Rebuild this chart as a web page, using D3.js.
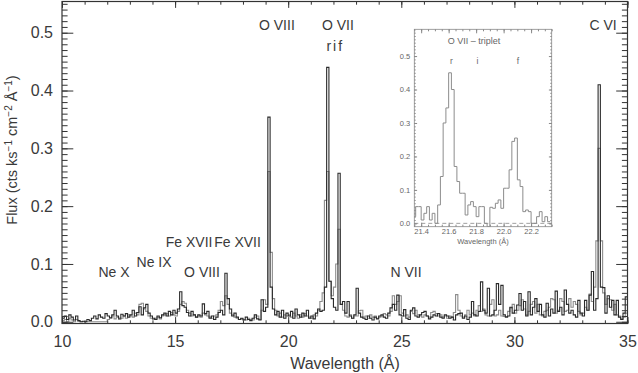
<!DOCTYPE html>
<html lang="en">
    <head>
        <meta charset="UTF-8">
        <script src="https://cdnjs.cloudflare.com/ajax/libs/d3/7.8.5/d3.min.js"></script>
        <title>RGS spectrum</title>
        <style>
            body { margin: 0; background: #fff; }
            svg text { font-family: "Liberation Sans", Arial, sans-serif; fill: #3a3a3a; }
            .axis path.domain { display: none; }
            .axis line { stroke: #333; }
            .inset .axis line { stroke: #888; }
            .inset text { fill: #666; }
        </style>
    </head>
    <body>
        <svg id="canvas" width="638" height="373"></svg>

        <script>
            // main spectrum: 0.1 A bins starting at 10.0 A
            var binStart = 10.0, binWidth = 0.1;
            var fluxDark = [
                .006,.010,.004,.012,.008,.003,.010,.002,.000,.001,
                .000,.004,.002,.006,.010,.005,.012,.008,.006,.014,
                .010,.007,.012,.020,.010,.006,.013,.010,.014,.008,
                .012,.020,.010,.016,.026,.012,.024,.030,.015,.010,
                .006,.004,.010,.007,.012,.015,.010,.018,.012,.020,
                .015,.022,.052,.028,.025,.016,.010,.018,.012,.008,
                .012,.010,.031,.014,.018,.006,.010,.004,.008,.016,
                .020,.012,.084,.040,.022,.010,.015,.008,.004,.006,
                .003,.008,.004,.002,.006,.012,.005,.003,.038,.018,
                .025,.354,.060,.022,.012,.018,.008,.020,.006,.015,
                .010,.018,.006,.022,.012,.008,.015,.010,.020,.006,
                .010,.005,.015,.022,.018,.020,.060,.440,.070,.040,
                .025,.020,.257,.030,.035,.015,.035,.010,.006,.012,
                .058,.015,.008,.006,.004,.010,.006,.003,.008,.005,
                .010,.012,.008,.006,.015,.024,.030,.020,.046,.012,
                .010,.021,.006,.004,.020,.024,.010,.008,.012,.016,
                .018,.010,.005,.008,.012,.010,.014,.008,.006,.012,
                .010,.006,.008,.003,.012,.014,.015,.006,.010,.004,
                .008,.035,.012,.010,.018,.069,.020,.015,.058,.010,
                .012,.020,.066,.030,.063,.012,.008,.010,.025,.015,
                .020,.029,.049,.020,.035,.010,.052,.012,.025,.040,
                .018,.030,.012,.008,.032,.010,.022,.015,.053,.018,
                .025,.012,.055,.030,.015,.020,.012,.008,.037,.015,
                .010,.037,.020,.046,.087,.020,.040,.410,.060,.059,
                .015,.045,.025,.037,.012,.037,.008,.004,.015,.043
            ];
            var fluxGrey = [
                .002,.004,.000,.006,.003,.000,.004,.001,.000,.000,
                .000,.000,.000,.000,.000,.000,.000,.000,.000,.000,
                .004,.006,.010,.005,.008,.004,.006,.010,.006,.012,
                .010,.008,.015,.012,.030,.032,.022,.018,.010,.006,
                .004,.006,.008,.005,.010,.012,.014,.010,.016,.012,
                .010,.018,.030,.035,.032,.020,.015,.010,.012,.008,
                .010,.008,.015,.012,.010,.008,.006,.010,.012,.020,
                .035,.028,.045,.030,.015,.012,.008,.006,.004,.005,
                .004,.003,.006,.004,.003,.008,.010,.004,.020,.038,
                .030,.260,.120,.040,.020,.010,.015,.008,.012,.010,
                .012,.008,.015,.010,.006,.012,.008,.014,.010,.008,
                .006,.012,.010,.020,.035,.050,.210,.260,.070,.045,
                .060,.100,.160,.030,.020,.010,.008,.012,.006,.010,
                .010,.019,.020,.008,.010,.006,.012,.008,.010,.006,
                .008,.010,.014,.012,.010,.018,.045,.030,.035,.045,
                .015,.010,.012,.008,.018,.014,.020,.012,.010,.008,
                .012,.010,.008,.016,.018,.014,.010,.012,.008,.010,
                .006,.010,.008,.016,.047,.020,.010,.008,.012,.020,
                .012,.015,.010,.020,.028,.018,.022,.012,.010,.030,
                .038,.010,.012,.020,.010,.009,.009,.018,.024,.030,
                .015,.020,.028,.038,.022,.012,.018,.030,.035,.015,
                .030,.012,.010,.018,.020,.025,.040,.038,.015,.020,
                .040,.035,.018,.020,.040,.025,.035,.030,.018,.012,
                .015,.025,.020,.048,.035,.060,.140,.300,.140,.050,
                .030,.040,.038,.020,.030,.012,.010,.005,.008,.015
            ];
            var xTicks = [10, 15, 20, 25, 30, 35];
            var yTicks = [0.0, 0.1, 0.2, 0.3, 0.4, 0.5];

            var lineLabels = [
                {text: "O VIII",  lam: 19.5,  f: 0.504},
                {text: "O VII",   lam: 22.2,  f: 0.504},
                {text: "rif",     lam: 22.08, f: 0.469},
                {text: "C VI",    lam: 33.92, f: 0.504},
                {text: "Ne X",    lam: 12.3,  f: 0.077},
                {text: "Ne IX",   lam: 14.07, f: 0.095},
                {text: "Fe XVII", lam: 15.62, f: 0.129},
                {text: "Fe XVII", lam: 17.76, f: 0.129},
                {text: "O VIII",  lam: 16.19, f: 0.077},
                {text: "N VII",   lam: 25.21, f: 0.077}
            ];

            // inset: O VII triplet, 0.02 A bins starting at 21.34 A
            var insetStart = 21.34, insetWidth = 0.02;
            var insetFlux = [
                .020,.050,.050,.010,.030,.050,.010,.030,.000,.055,
                .140,.300,.345,.450,.400,.170,.125,.090,.090,.025,
                .055,.065,.050,.020,.050,.050,.000,-.010,.048,.045,
                .060,.070,.045,.105,.105,.160,.245,.255,.130,.110,
                .035,.040,.035,.000,.000,.020,.035,.005,.020,.005
            ];
            var insetXTicks = [21.4, 21.6, 21.8, 22.0, 22.2];
            var insetYTicks = [0.0, 0.1, 0.2, 0.3, 0.4, 0.5];
            var tripletLabels = [
                {text: "r", lam: 21.62},
                {text: "i", lam: 21.81},
                {text: "f", lam: 22.105}
            ];

            var svg = d3.select("svg#canvas");
            var x = d3.scaleLinear().domain([10, 35]).range([62, 627.5]);
            var y = d3.scaleLinear().domain([-0.003, 0.554]).range([323.5, 1.5]);

            svg.append("clipPath").attr("id", "clip")
                .append("rect")
                .attr("x", 62).attr("y", 1.5).attr("width", 565.5).attr("height", 322);

            function steps(start, width, vals) {
                var pts = vals.map(function(v, i) { return [start + i * width, v]; });
                pts.push([start + vals.length * width, vals[vals.length - 1]]);
                return pts;
            }
            var step = d3.line()
                .x(function(d) { return x(d[0]); })
                .y(function(d) { return y(d[1]); })
                .curve(d3.curveStepAfter);

            var plot = svg.append("g").attr("clip-path", "url(#clip)");
            plot.append("path").attr("d", step(steps(binStart, binWidth, fluxGrey)))
                .attr("fill", "none").attr("stroke", "#8c8c8c").attr("stroke-width", 1.1);
            plot.append("path").attr("d", step(steps(binStart, binWidth, fluxDark)))
                .attr("fill", "none").attr("stroke", "#2a2a2a").attr("stroke-width", 1.1);

            // axes, IDL style box with inward ticks
            var xMinor = d3.range(10, 35.01, 1), yMinor = d3.range(0, 0.551, 0.01);
            function tickAxis(axis, scale, vals, len, pos) {
                svg.append("g").attr("class", "axis").attr("transform", pos)
                    .call(axis(scale).tickValues(vals).tickSize(-len).tickFormat(""));
            }
            tickAxis(d3.axisBottom, x, xMinor, 3.2, "translate(0,323.5)");
            tickAxis(d3.axisTop, x, xMinor, 3.2, "translate(0,1.5)");
            tickAxis(d3.axisLeft, y, yMinor, 5.6, "translate(62,0)");
            tickAxis(d3.axisRight, y, yMinor, 5.6, "translate(627.5,0)");
            tickAxis(d3.axisTop, x, xTicks, 6.4, "translate(0,1.5)");
            tickAxis(d3.axisRight, y, yTicks, 11.3, "translate(627.5,0)");

            svg.append("g").attr("class", "axis").attr("transform", "translate(0,323.5)")
                .call(d3.axisBottom(x).tickValues(xTicks).tickSize(-6.4).tickPadding(12).tickFormat(d3.format("d")))
                .selectAll("text").attr("font-size", 16).attr("font-family", null);
            svg.append("g").attr("class", "axis").attr("transform", "translate(62,0)")
                .call(d3.axisLeft(y).tickValues(yTicks).tickSize(-11.3).tickPadding(9).tickFormat(d3.format(".1f")))
                .selectAll("text").attr("font-size", 16).attr("font-family", null);

            svg.append("rect").attr("x", 62).attr("y", 1.5).attr("width", 565.5).attr("height", 322)
                .attr("fill", "none").attr("stroke", "#333").attr("stroke-width", 1.2);

            svg.append("text").attr("x", 345).attr("y", 369).attr("text-anchor", "middle")
                .attr("font-size", 16).text("Wavelength (Å)");

            var yt = svg.append("text").attr("transform", "translate(17,150) rotate(-90)")
                .attr("text-anchor", "middle").attr("font-size", 14.5);
            yt.append("tspan").text("Flux (cts ks");
            yt.append("tspan").attr("baseline-shift", "super").attr("font-size", 10).text("−1");
            yt.append("tspan").text(" cm");
            yt.append("tspan").attr("baseline-shift", "super").attr("font-size", 10).text("−2");
            yt.append("tspan").text(" Å");
            yt.append("tspan").attr("baseline-shift", "super").attr("font-size", 10).text("−1");
            yt.append("tspan").text(")");

            svg.selectAll("text.line").data(lineLabels).enter().append("text")
                .attr("class", "line")
                .attr("x", function(d) { return x(d.lam); })
                .attr("y", function(d) { return y(d.f); })
                .attr("text-anchor", "middle").attr("font-size", 14)
                .attr("letter-spacing", function(d) { return d.text === "rif" ? 2 : null; })
                .text(function(d) { return d.text; });

            // inset
            var xi = d3.scaleLinear().domain([21.35, 22.35]).range([414.3, 551.7]);
            var yi = d3.scaleLinear().domain([-0.01, 0.58]).range([226.7, 29.3]);
            var inset = svg.append("g").attr("class", "inset");
            inset.append("rect").attr("x", 414.3).attr("y", 29.3).attr("width", 137.4).attr("height", 197.4)
                .attr("fill", "#fff");
            inset.append("clipPath").attr("id", "clipi").append("rect")
                .attr("x", 414.3).attr("y", 29.3).attr("width", 137.4).attr("height", 197.4);

            var istep = d3.line()
                .x(function(d) { return xi(d[0]); })
                .y(function(d) { return yi(d[1]); })
                .curve(d3.curveStepAfter);
            inset.append("line").attr("x1", 414.3).attr("x2", 551.7).attr("y1", yi(0)).attr("y2", yi(0))
                .attr("stroke", "#888").attr("stroke-dasharray", "4,3").attr("stroke-width", 0.8);
            inset.append("path").attr("clip-path", "url(#clipi)")
                .attr("d", istep(steps(insetStart, insetWidth, insetFlux)))
                .attr("fill", "none").attr("stroke", "#8c8c8c").attr("stroke-width", 1);

            function insetTicks(axis, scale, vals, len, pos) {
                inset.append("g").attr("class", "axis").attr("transform", pos)
                    .call(axis(scale).tickValues(vals).tickSize(-len).tickFormat(""));
            }
            var ixMinor = d3.range(21.35, 22.351, 0.05), iyMinor = d3.range(0, 0.571, 0.01);
            insetTicks(d3.axisBottom, xi, ixMinor, 2, "translate(0,226.7)");
            insetTicks(d3.axisTop, xi, ixMinor, 2, "translate(0,29.3)");
            insetTicks(d3.axisTop, xi, insetXTicks, 4, "translate(0,29.3)");
            insetTicks(d3.axisLeft, yi, iyMinor, 1.4, "translate(414.3,0)");
            insetTicks(d3.axisRight, yi, iyMinor, 1.4, "translate(551.7,0)");
            insetTicks(d3.axisRight, yi, insetYTicks, 2.8, "translate(551.7,0)");

            inset.append("g").attr("class", "axis").attr("transform", "translate(0,226.7)")
                .call(d3.axisBottom(xi).tickValues(insetXTicks).tickSize(-4).tickPadding(2).tickFormat(d3.format(".1f")))
                .selectAll("text").attr("font-size", 7.5).attr("font-family", null);
            inset.append("g").attr("class", "axis").attr("transform", "translate(414.3,0)")
                .call(d3.axisLeft(yi).tickValues(insetYTicks).tickSize(-2.8).tickPadding(4).tickFormat(d3.format(".1f")))
                .selectAll("text").attr("font-size", 7.5).attr("font-family", null);
            inset.append("rect").attr("x", 414.3).attr("y", 29.3).attr("width", 137.4).attr("height", 197.4)
                .attr("fill", "none").attr("stroke", "#888").attr("stroke-width", 0.8);

            inset.append("text").attr("x", 474).attr("y", 43.5).attr("text-anchor", "middle")
                .attr("font-size", 9).text("O VII – triplet");
            inset.append("text").attr("x", 483).attr("y", 243.5).attr("text-anchor", "middle")
                .attr("font-size", 7.5).text("Wavelength (Å)");
            inset.selectAll("text.trip").data(tripletLabels).enter().append("text")
                .attr("class", "trip")
                .attr("x", function(d) { return xi(d.lam); })
                .attr("y", 64)
                .attr("text-anchor", "middle").attr("font-size", 8.5)
                .text(function(d) { return d.text; });
        </script>
    </body>
</html>
